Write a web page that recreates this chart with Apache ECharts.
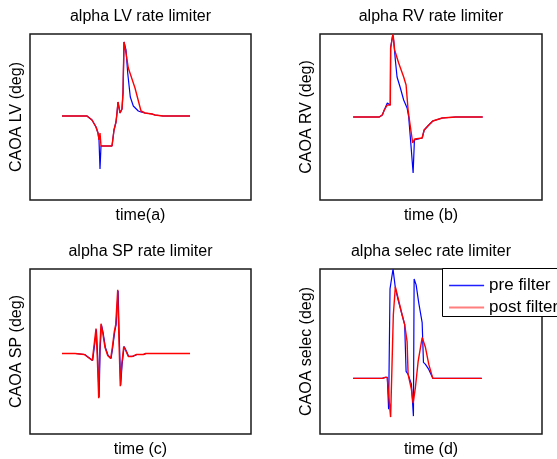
<!DOCTYPE html>
<html><head><meta charset="utf-8">
<script src="https://cdn.jsdelivr.net/npm/echarts@6/dist/echarts.min.js"></script>
<style>html,body{margin:0;padding:0;background:#fff}#c{width:557px;height:459px}</style>
</head><body><div id="c"></div>
<script>
// Panel titles and axis labels
const titles = ['alpha LV rate limiter', 'alpha RV rate limiter', 'alpha SP rate limiter', 'alpha selec rate limiter'];
const xNames = ['time(a)', 'time (b)', 'time (c)', 'time (d)'];
const yNames = ['CAOA LV (deg)', 'CAOA RV (deg)', 'CAOA SP (deg)', 'CAOA selec (deg)'];
const seriesNames = ['pre filter', 'post filter'];

// Panel 1: LV
const pre1T  = [32, 57, 62, 66, 68, 69, 70, 71, 82, 84, 86, 87, 88, 90, 92, 93, 94, 96, 97.7, 100.3, 103.3, 108.3, 111, 115, 122, 125, 133, 160];
const pre1V  = [0, 0, -4, -11, -17, -24, -53, -30, -30, -14, -6, 3, 14, 3, 7, 23, 74, 66, 43, 19, 10, 5, 4, 3, 2, 1, 0, 0];
const post1T = [32, 57, 62, 66, 68, 69, 70, 71, 82, 84, 86, 87, 88, 90, 92, 93, 94, 96, 98.3, 105, 111, 115, 122, 125, 133, 160];
const post1V = [0, 0, -4, -11, -17, -24, -17, -30, -30, -14, -6, 3, 14, 3, 7, 23, 74, 63, 48, 28, 5, 3, 2, 1, 0, 0];

// Panel 2: RV
const pre2T  = [33, 59, 62, 64, 67, 68.5, 70, 70.3, 71.7, 72.3, 73.3, 75, 76.7, 80, 83.3, 86.7, 88.3, 90.3, 91.7, 92.7, 94, 95.7, 101.7, 103.7, 108.3, 112.3, 121.7, 135, 162];
const pre2V  = [0, 0, 2, 7, 14, 12, 12, 69, 69, 82, 77, 57, 40, 29, 17, 9, 0, -25, -26, -56, -23, -21, -21, -13, -8, -4, -1, 0, 0];
const post2T = [33, 59, 62, 64, 67, 70, 70.3, 71.7, 72.7, 74.3, 78.3, 83.3, 85.7, 87.7, 90, 92.3, 94.3, 95.7, 101.7, 103.7, 108.3, 112.3, 121.7, 135, 162];
const post2V = [0, 0, 2, 7, 12, 12, 69, 69, 83, 67, 54, 40, 32, 7, -10, -26, -22, -21, -21, -13, -8, -4, -1, 0, 0];

// Panel 3: SP
const pre3T  = [32, 45.4, 46.1, 54.7, 58.7, 62.7, 64.4, 66.4, 67.7, 69.1, 70.1, 71.4, 73.1, 75.4, 78.1, 81.1, 82.7, 84.7, 86.1, 88.1, 89.1, 90.7, 92.1, 94.1, 96.1, 98.7, 102.7, 107.1, 113.7, 116.1, 160];
const pre3V  = [0, 0, -1, -1, -4, -7, -7, 24, -4, -44, 3, 29, 21, 6, -2, -5, 6, 22, 29, 63, 22, -32, -11, 7, 3, -3, -3, -1, -1, 0, 0];
const post3T = [32, 45, 45.7, 54.3, 58.3, 62.3, 64, 66, 67.3, 68.7, 69.7, 71, 72.7, 75, 77.7, 80.7, 82.3, 84.3, 85.7, 87.7, 88.7, 90.3, 91.7, 93.7, 95.7, 98.3, 102.3, 106.7, 113.3, 115.7, 160];
const post3V = [0, 0, -1, -1, -4, -7, -7, 25, -4, -45, 3, 30, 21, 6, -2, -5, 6, 22, 29, 64, 22, -33, -11, 7, 3, -3, -3, -1, -1, 0, 0];

// Panel 4: selec
const pre4T  = [33, 62, 65, 67, 68.3, 69.3, 69.7, 71, 72.7, 75, 78, 81.7, 84.3, 85.7, 87.7, 89.3, 91, 93, 93.7, 95.7, 98.3, 101.7, 103, 105, 108.3, 112.3, 161];
const pre4V  = [0, 0, 1, 1, -31, -32, 90, 91, 110, 91, 78, 64, 54, 7, 4, 4, -6, -38, 100, 94, 76, 56, 16, 14, 9, 0, 0];
const post4T = [33, 62, 65, 67, 68.3, 70.3, 71.7, 73, 75, 77.7, 81.7, 84.3, 86.7, 87.7, 89.3, 91, 92.7, 95, 97.7, 101.7, 105, 108.3, 112.3, 161];
const post4V = [0, 0, 1, 1, -16, -39, 14, 64, 92, 81, 64, 54, 37, 4, 4, -11, -25, -9, 17, 41, 31, 14, 0, 0];

const yMins = [-84, -83, -81, -56];
const yMaxs = [82, 83, 85, 110];

const preT = [pre1T, pre2T, pre3T, pre4T], preV = [pre1V, pre2V, pre3V, pre4V];
const postT = [post1T, post2T, post3T, post4T], postV = [post1V, post2V, post3V, post4V];

const zip = (t, v) => t.map((x, i) => [x, v[i]]);
const font = 'Arial, "Liberation Sans", sans-serif';
const grids = [
  {left: 30, top: 34, width: 221, height: 166},
  {left: 320, top: 34, width: 222, height: 166},
  {left: 30, top: 269, width: 221, height: 166},
  {left: 320, top: 269, width: 222, height: 166}
];
const opt = {
  animation: false,
  backgroundColor: '#fff',
  title: grids.map((g, i) => ({
    text: titles[i], left: g.left + g.width / 2, top: g.top - 25, textAlign: 'center', padding: 0,
    textStyle: {fontFamily: font, fontSize: 16, fontWeight: 'normal', color: '#000'}
  })),
  grid: grids.map(g => Object.assign({show: true, borderColor: '#1a1a1a', borderWidth: 1.5, backgroundColor: '#fff'}, g)),
  xAxis: grids.map((g, i) => ({
    type: 'value', gridIndex: i, min: 0, max: 221,
    name: xNames[i], nameLocation: 'middle', nameGap: 8,
    nameTextStyle: {fontFamily: font, fontSize: 16, color: '#000'},
    axisLine: {show: false}, axisTick: {show: false}, axisLabel: {show: false}, splitLine: {show: false}
  })),
  yAxis: grids.map((g, i) => ({
    type: 'value', gridIndex: i, min: yMins[i], max: yMaxs[i],
    name: yNames[i], nameLocation: 'middle', nameGap: 5,
    nameTextStyle: {fontFamily: font, fontSize: 16, color: '#000'},
    axisLine: {show: false}, axisTick: {show: false}, axisLabel: {show: false}, splitLine: {show: false}
  })),
  graphic: [{
    type: 'rect', left: 442, top: 268, z: 10,
    shape: {width: 140, height: 48},
    style: {fill: '#fff', stroke: '#000', lineWidth: 1}
  }],
  legend: {
    left: 441, top: 268, orient: 'vertical', itemWidth: 35, itemHeight: 14, itemGap: 5, z: 20,
    padding: [9, 0, 0, 7],
    itemStyle: {opacity: 0},
    textStyle: {fontFamily: font, fontSize: 17, color: '#000'},
    data: [
      {name: seriesNames[0], itemStyle: {opacity: 0}, lineStyle: {color: '#1f1fff', width: 1.6}},
      {name: seriesNames[1], itemStyle: {opacity: 0}, lineStyle: {color: '#ff7f7f', width: 2.2}}
    ]
  },
  series: []
};
for (let i = 0; i < 4; i++) {
  opt.series.push({
    name: seriesNames[0], type: 'line', xAxisIndex: i, yAxisIndex: i, symbol: 'none',
    data: zip(preT[i], preV[i]), color: '#0000ff', lineStyle: {color: '#0000ff', width: 1.2}, z: 2
  });
  opt.series.push({
    name: seriesNames[1], type: 'line', xAxisIndex: i, yAxisIndex: i, symbol: 'none',
    data: zip(postT[i], postV[i]), color: '#ff0000', lineStyle: {color: '#ff0000', width: 1.4}, z: 3
  });
}
const chart = echarts.init(document.getElementById('c'), null, {renderer: 'canvas'});
chart.setOption(opt);
</script></body></html>
